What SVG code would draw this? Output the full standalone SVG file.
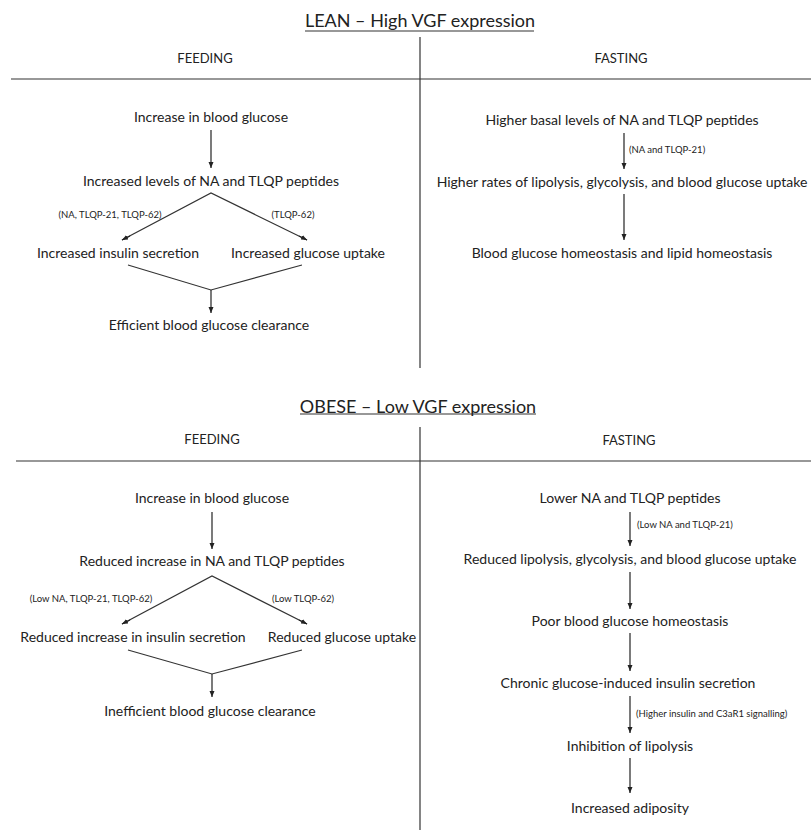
<svg xmlns="http://www.w3.org/2000/svg" width="811" height="830" viewBox="0 0 811 830">
<defs>
<marker id="ah" viewBox="0 0 6 6" refX="6" refY="3" markerWidth="6" markerHeight="6" markerUnits="userSpaceOnUse" orient="auto">
<path d="M0,0.5 L6,3 L0,5.5 Z" fill="#222"/>
</marker>
<style>
text{font-family:Lato,"Liberation Sans",sans-serif;fill:#222;text-anchor:middle}
.t{font-size:18px}
.h{font-size:13px}
.n{font-size:14px}
.s{font-size:9.5px}
.sl{text-anchor:start}
.ln{stroke:#333;stroke-width:1.2;fill:none}
.ar{stroke:#222;stroke-width:1.2;fill:none;marker-end:url(#ah)}
</style>
</defs>
<rect width="811" height="830" fill="#fff"/>
<g id="frame">
<text class="t" x="420" y="27">LEAN – High VGF expression</text>
<line class="ln" x1="305" y1="31" x2="534" y2="31"/>
<line class="ln" x1="420" y1="37" x2="420" y2="368"/>
<line class="ln" x1="11" y1="79" x2="811" y2="79"/>
<text class="h" x="205" y="63">FEEDING</text>
<text class="h" x="621" y="63">FASTING</text>
<text class="t" x="418" y="413">OBESE – Low VGF expression</text>
<line class="ln" x1="300" y1="414" x2="536" y2="414"/>
<line class="ln" x1="420" y1="427" x2="420" y2="830"/>
<line class="ln" x1="16" y1="461" x2="811" y2="461"/>
<text class="h" x="212" y="444">FEEDING</text>
<text class="h" x="629" y="445">FASTING</text>
</g>
<g id="connectors">
<line class="ar" x1="211" y1="130" x2="211" y2="168"/>
<polyline class="ln" points="122,240 211,193 307,240"/>
<line class="ar" x1="130" y1="236" x2="122" y2="240"/>
<line class="ar" x1="299" y1="236" x2="307" y2="240"/>
<polyline class="ln" points="128,265 211,290 302,265"/>
<line class="ar" x1="211" y1="290" x2="211" y2="313"/>
<line class="ar" x1="624" y1="133" x2="624" y2="169"/>
<line class="ar" x1="624" y1="194" x2="624" y2="240"/>
<line class="ar" x1="212" y1="512" x2="212" y2="549"/>
<polyline class="ln" points="122,624 212,576 307,624"/>
<line class="ar" x1="130" y1="620" x2="122" y2="624"/>
<line class="ar" x1="299" y1="620" x2="307" y2="624"/>
<polyline class="ln" points="128,650 212,674 302,650"/>
<line class="ar" x1="212" y1="674" x2="212" y2="697"/>
<line class="ar" x1="630" y1="512" x2="630" y2="546"/>
<line class="ar" x1="630" y1="572" x2="630" y2="609"/>
<line class="ar" x1="630" y1="633" x2="630" y2="671"/>
<line class="ar" x1="630" y1="696" x2="630" y2="733"/>
<line class="ar" x1="630" y1="758" x2="630" y2="793"/>
<text class="s" x="110" y="218">(NA, TLQP-21, TLQP-62)</text>
<text class="s" x="293" y="218">(TLQP-62)</text>
<text class="s sl" x="629" y="153">(NA and TLQP-21)</text>
<text class="s" x="91" y="602">(Low NA, TLQP-21, TLQP-62)</text>
<text class="s" x="303" y="602">(Low TLQP-62)</text>
<text class="s sl" x="637" y="528">(Low NA and TLQP-21)</text>
<text class="s sl" x="636" y="717">(Higher insulin and C3aR1 signalling)</text>
</g>
<g id="lean-feeding-1"><text class="n" x="211" y="122">Increase in blood glucose</text></g>
<g id="lean-feeding-2"><text class="n" x="211" y="186">Increased levels of NA and TLQP peptides</text></g>
<g id="lean-feeding-3"><text class="n" x="118" y="258">Increased insulin secretion</text></g>
<g id="lean-feeding-4"><text class="n" x="308" y="258">Increased glucose uptake</text></g>
<g id="lean-feeding-5"><text class="n" x="209" y="330">Efficient blood glucose clearance</text></g>
<g id="lean-fasting-1"><text class="n" x="622" y="125">Higher basal levels of NA and TLQP peptides</text></g>
<g id="lean-fasting-2"><text class="n" x="622" y="187">Higher rates of lipolysis, glycolysis, and blood glucose uptake</text></g>
<g id="lean-fasting-3"><text class="n" x="622" y="258">Blood glucose homeostasis and lipid homeostasis</text></g>
<g id="obese-feeding-1"><text class="n" x="212" y="503">Increase in blood glucose</text></g>
<g id="obese-feeding-2"><text class="n" x="212" y="566">Reduced increase in NA and TLQP peptides</text></g>
<g id="obese-feeding-3"><text class="n" x="133" y="642">Reduced increase in insulin secretion</text></g>
<g id="obese-feeding-4"><text class="n" x="342" y="642">Reduced glucose uptake</text></g>
<g id="obese-feeding-5"><text class="n" x="210" y="716">Inefficient blood glucose clearance</text></g>
<g id="obese-fasting-1"><text class="n" x="630" y="503">Lower NA and TLQP peptides</text></g>
<g id="obese-fasting-2"><text class="n" x="630" y="564">Reduced lipolysis, glycolysis, and blood glucose uptake</text></g>
<g id="obese-fasting-3"><text class="n" x="630" y="626">Poor blood glucose homeostasis</text></g>
<g id="obese-fasting-4"><text class="n" x="628" y="688">Chronic glucose-induced insulin secretion</text></g>
<g id="obese-fasting-5"><text class="n" x="630" y="751">Inhibition of lipolysis</text></g>
<g id="obese-fasting-6"><text class="n" x="630" y="813">Increased adiposity</text></g>
</svg>
